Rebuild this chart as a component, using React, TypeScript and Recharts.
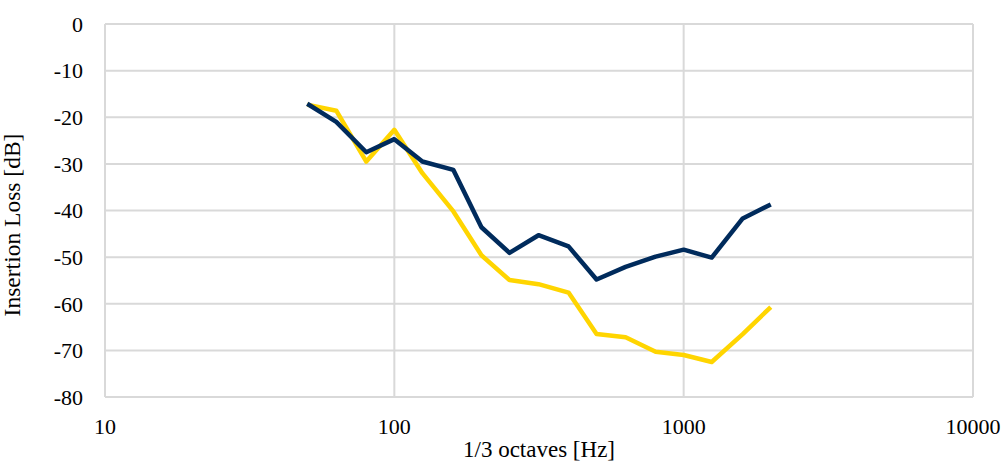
import React from 'react'
import { LineChart, Line, CartesianGrid, XAxis, YAxis } from 'recharts'

// 1/3 octave band centre frequencies [Hz]
const frequencies = [50, 63, 80, 100, 125, 160, 200, 250, 315, 400, 500, 630, 800, 1000, 1250, 1600, 2000]

// insertion loss [dB]
const navyLoss = [-17.1, -21.0, -27.5, -24.7, -29.5, -31.3, -43.6, -49.1, -45.3, -47.7, -54.8, -52.1, -49.9, -48.4, -50.1, -41.7, -38.7]
const yellowLoss = [-17.3, -18.6, -29.5, -22.7, -32.0, -40.2, -49.6, -54.9, -55.8, -57.6, -66.5, -67.2, -70.3, -71.0, -72.5, -66.5, -60.7]

const xTicks = [10, 100, 1000, 10000]
const yTicks = [-80, -70, -60, -50, -40, -30, -20, -10, 0]

const data = frequencies.map((f, i) => ({ f, navy: navyLoss[i], yellow: yellowLoss[i] }))

const font = 'Liberation Serif, Tinos, Times New Roman, DejaVu Serif, serif'
const gridColor = '#d9d9d9'

const YTitle = () => (
	<text
		x={20}
		y={225}
		transform={'rotate(-90, 20, 225)'}
		textAnchor={'middle'}
		style={{ fontFamily: font, fontSize: 23.5 }}
		fill={'#000'}
	>
		Insertion Loss [dB]
	</text>
)

export default function App() {
	return (
		<div style={{ fontFamily: font }}>
			<style>{'body{margin:0}'}</style>
			<LineChart
				width={1008}
				height={462}
				data={data}
				margin={{ top: 24, right: 35, bottom: 0, left: 0 }}
				style={{ fontFamily: font }}
			>
				<CartesianGrid stroke={gridColor} strokeWidth={2} />
				<XAxis
					dataKey={'f'}
					type={'number'}
					scale={'log'}
					domain={[10, 10000]}
					ticks={xTicks}
					allowDataOverflow
					height={65}
					axisLine={{ stroke: gridColor, strokeWidth: 2 }}
					tickLine={false}
					tickSize={0}
					tickMargin={21}
					tick={{ style: { fontFamily: font }, fontSize: 22, fill: '#000' }}
					label={{
						value: '1/3 octaves [Hz]',
						position: 'insideBottom',
						offset: 5,
						style: { fontFamily: font, fontSize: 23, fill: '#000' },
					}}
				/>
				<YAxis
					type={'number'}
					domain={[-80, 0]}
					ticks={yTicks}
					width={105}
					axisLine={{ stroke: gridColor, strokeWidth: 2 }}
					tickLine={false}
					tickSize={0}
					tickMargin={22}
					tick={{ style: { fontFamily: font }, fontSize: 22, fill: '#000' }}
					label={<YTitle />}
				/>
				<Line
					type={'linear'}
					dataKey={'yellow'}
					stroke={'#ffd500'}
					strokeWidth={4.5}
					strokeLinejoin={'round'}
					dot={false}
					isAnimationActive={false}
				/>
				<Line
					type={'linear'}
					dataKey={'navy'}
					stroke={'#002b5c'}
					strokeWidth={4.5}
					strokeLinejoin={'round'}
					dot={false}
					isAnimationActive={false}
				/>
			</LineChart>
		</div>
	)
}
